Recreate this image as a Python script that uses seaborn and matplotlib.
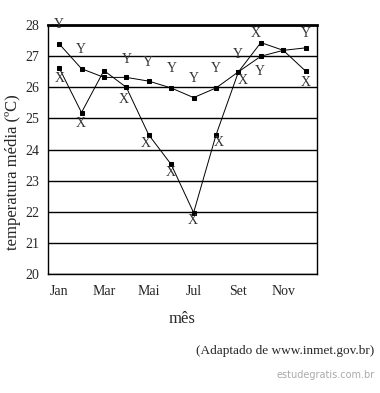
import pandas as pd
import numpy as np
import seaborn as sns
import matplotlib.pyplot as plt

months = ['Jan', 'Fev', 'Mar', 'Abr', 'Mai', 'Jun', 'Jul', 'Ago', 'Set', 'Out', 'Nov', 'Dez']
temp_x = [26.63, 25.19, 26.54, 26.0, 24.47, 23.52, 21.97, 24.47, 26.5, 27.44, 27.19, 26.52]
temp_y = [27.4, 26.6, 26.32, 26.32, 26.2, 25.98, 25.67, 25.98, 26.5, 27.0, 27.19, 27.27]
shown_labels = ['Jan', 'Mar', 'Mai', 'Jul', 'Set', 'Nov']

# label placement (pixels from the point), None = no label
off_x = [(1, -11), (-1, -11), None, (-3, -12), (-3, -9), (-1, -8), (-1, -8),
         (3, -8), (4, -9), (-5, 9), None, (0, -11)]
off_y = [(0, 19), (-1, 19), None, (0, 18), (-1, 19), (1, 19), (0, 19),
         (0, 19), (-1, 17), (-1, -15), None, (0, 14)]

df = pd.DataFrame({'mes': np.arange(len(months)), 'X': temp_x, 'Y': temp_y})
long = df.melt(id_vars='mes', var_name='serie', value_name='temp')

sns.set_style('white')
plt.rcParams['font.family'] = ['Liberation Serif', 'DejaVu Serif']

fig = plt.figure(figsize=(3.8, 3.93), dpi=100)
ax = fig.add_axes([0.126, 0.303, 0.708, 0.633])

for ax_grid in range(20, 29):
    ax.axhline(ax_grid, color='black', lw=1.0, zorder=0)

sns.lineplot(data=long, x='mes', y='temp', units='serie', estimator=None,
             color='black', lw=0.7, marker='s', markersize=2.5,
             markeredgecolor='black', ax=ax, legend=False)

for series, offs, name in [(temp_x, off_x, 'X'), (temp_y, off_y, 'Y')]:
    for i, (v, o) in enumerate(zip(series, offs)):
        if o is None:
            continue
        ax.annotate(name, (i, v), xytext=o, textcoords='offset pixels',
                    ha='center', va='center', fontsize=10, color='#333333')

ax.set_xlim(-0.5, 11.5)
ax.set_ylim(20, 28)
ax.set_yticks(range(20, 29))
ax.set_xticks(np.arange(-0.5, 12, 1))
ax.set_xticklabels([])
ax.set_xticks([months.index(m) for m in shown_labels], minor=True)
ax.set_xticklabels(shown_labels, minor=True)
ax.tick_params(axis='x', which='major', direction='out', length=4, width=0.8, colors='black')
ax.tick_params(axis='x', which='minor', length=0, pad=8, labelsize=10)
ax.tick_params(axis='y', direction='out', length=4, width=0.8, labelsize=10, pad=2)

for s in ['left', 'right', 'bottom']:
    ax.spines[s].set_color('black')
    ax.spines[s].set_linewidth(1.0)
ax.spines['top'].set_color('black')
ax.spines['top'].set_linewidth(2.0)

ax.set_xlabel('mês', fontsize=12, labelpad=9)
ax.set_ylabel('temperatura média (ºC)', fontsize=12, labelpad=4)
ax.yaxis.set_label_coords(-0.1, 0.41)

fig.text(0.985, 0.107, '(Adaptado de www.inmet.gov.br)', ha='right', va='center', fontsize=9.5)
fig.text(0.985, 0.045, 'estudegratis.com.br', ha='right', va='center', fontsize=7,
         color='#aaaaaa', family='DejaVu Sans')

plt.savefig('out.png', dpi=100)
